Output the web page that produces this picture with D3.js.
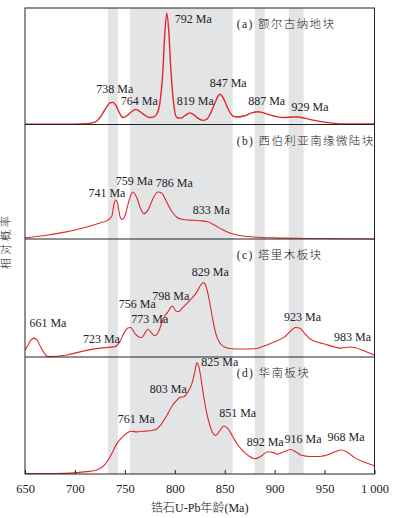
<!DOCTYPE html>
<html>
<head>
<meta charset="utf-8">
<script src="https://cdn.jsdelivr.net/npm/d3@7"></script>
<style>
  body { margin: 0; background: #fff; }
  svg { display: block; }
  text { font-family: "Liberation Serif", "Noto Sans CJK SC", serif; fill: #222; }
  .cjk { font-weight: 300; }
</style>
</head>
<body>
<svg id="chart" width="395" height="518"></svg>
<script>
// x axis
const xTicks = [650, 700, 750, 800, 850, 900, 950, 1000];
const xTickLabels = ["650", "700", "750", "800", "850", "900", "950", "1 000"];

// shaded age bands (Ma)
const bands = [[733, 743], [755, 858], [880, 890], [914, 929]];

const panelNames = ["(a) 额尔古纳地块", "(b) 西伯利亚南缘微陆块", "(c) 塔里木板块", "(d) 华南板块"];

// (a) relative probability curve
const agesA = [650, 700, 712, 720, 726, 731, 735, 738, 741, 744, 748, 752, 756, 761, 766, 770, 775, 779, 782, 785, 788, 790, 792, 794, 796, 799, 802, 806, 810, 815, 819, 823, 828, 832, 836, 840, 845, 849, 853, 858, 863, 870, 877, 883, 889, 896, 903, 910, 917, 923, 930, 940, 950, 960, 970, 1000];
const probA = [0.003, 0.003, 0.006, 0.02, 0.07, 0.14, 0.185, 0.19, 0.165, 0.11, 0.06, 0.075, 0.105, 0.13, 0.105, 0.08, 0.06, 0.065, 0.09, 0.18, 0.45, 0.78, 0.955, 0.8, 0.48, 0.17, 0.06, 0.055, 0.075, 0.1, 0.085, 0.055, 0.035, 0.045, 0.1, 0.18, 0.26, 0.22, 0.14, 0.075, 0.065, 0.075, 0.1, 0.11, 0.1, 0.08, 0.065, 0.06, 0.065, 0.065, 0.055, 0.035, 0.02, 0.01, 0.005, 0.004];

// (b)
const agesB = [650, 670, 690, 710, 725, 733, 737, 739, 741, 743, 745, 747, 750, 754, 758, 762, 766, 769, 773, 778, 783, 787, 792, 797, 802, 808, 815, 825, 833, 840, 848, 856, 865, 880, 900, 930, 1000];
const probB = [0.01, 0.03, 0.06, 0.1, 0.14, 0.165, 0.2, 0.3, 0.34, 0.3, 0.2, 0.17, 0.2, 0.33, 0.41, 0.36, 0.26, 0.22, 0.25, 0.35, 0.41, 0.4, 0.32, 0.24, 0.19, 0.17, 0.165, 0.16, 0.15, 0.12, 0.08, 0.05, 0.03, 0.018, 0.01, 0.005, 0.0];

// (c)
const agesC = [650, 653, 656, 659, 662, 666, 670, 673, 692, 708, 725, 740, 745, 749, 753, 756, 760, 764, 767, 770, 773, 776, 780, 784, 787, 790, 793, 796, 798, 801, 804, 808, 815, 822, 826, 829, 832, 835, 838, 841, 845, 850, 857, 865, 880, 890, 900, 910, 916, 921, 925, 930, 936, 943, 950, 958, 966, 975, 980, 990, 1000];
const probC = [0.06, 0.1, 0.145, 0.16, 0.145, 0.08, 0.025, 0.003, 0.017, 0.05, 0.075, 0.088, 0.13, 0.2, 0.245, 0.25, 0.2, 0.17, 0.165, 0.2, 0.235, 0.21, 0.18, 0.22, 0.29, 0.35, 0.38, 0.42, 0.43, 0.39, 0.385, 0.42, 0.48, 0.55, 0.61, 0.63, 0.58, 0.46, 0.32, 0.2, 0.12, 0.085, 0.07, 0.068, 0.07, 0.095, 0.13, 0.17, 0.22, 0.25, 0.245, 0.2, 0.15, 0.125, 0.11, 0.09, 0.075, 0.085, 0.08, 0.05, 0.015];

// (d)
const agesD = [650, 680, 700, 712, 722, 730, 736, 742, 748, 753, 757, 762, 768, 775, 781, 786, 792, 798, 802, 805, 809, 813, 817, 820, 822, 824, 826, 829, 832, 835, 838, 841, 845, 849, 853, 858, 863, 868, 874, 880, 886, 893, 898, 903, 909, 916, 921, 927, 935, 945, 955, 962, 967, 972, 980, 990, 1000];
const probD = [0.003, 0.004, 0.01, 0.02, 0.035, 0.08, 0.16, 0.26, 0.32, 0.355, 0.365, 0.36, 0.365, 0.37, 0.38, 0.42, 0.5, 0.59, 0.63, 0.655, 0.66, 0.7, 0.77, 0.87, 0.95, 0.92, 0.83, 0.66, 0.52, 0.42, 0.35, 0.33, 0.37, 0.41, 0.39, 0.32, 0.25, 0.2, 0.155, 0.13, 0.15, 0.19, 0.185, 0.17, 0.19, 0.21, 0.19, 0.16, 0.15, 0.15, 0.17, 0.195, 0.205, 0.19, 0.14, 0.1, 0.07];

// peak labels
const peaksA = ["738 Ma", "764 Ma", "792 Ma", "819 Ma", "847 Ma", "887 Ma", "929 Ma"];
const peaksB = ["741 Ma", "759 Ma", "786 Ma", "833 Ma"];
const peaksC = ["661 Ma", "723 Ma", "756 Ma", "773 Ma", "798 Ma", "829 Ma", "923 Ma", "983 Ma"];
const peaksD = ["761 Ma", "803 Ma", "825 Ma", "851 Ma", "892 Ma", "916 Ma", "968 Ma"];

// where each label sits, in (age, probability) units, text centred
const placeA = [[740, 0.267], [764.5, 0.164], [818.5, 0.87], [820.5, 0.164], [853.5, 0.319], [892, 0.164], [935.5, 0.112]];
const placeB = [[732, 0.368], [759.5, 0.474], [799.5, 0.456], [836.5, 0.219]];
const placeC = [[673, 0.254], [726.5, 0.119], [762.5, 0.415], [775, 0.288], [796, 0.483], [835.5, 0.686], [928, 0.305], [978, 0.136]];
const placeD = [[761.5, 0.436], [793.5, 0.692], [845, 0.923], [863, 0.487], [890.5, 0.239], [928.5, 0.265], [971.5, 0.282]];

const panels = [
  { ages: agesA, prob: probA, peaks: peaksA, place: placeA },
  { ages: agesB, prob: probB, peaks: peaksB, place: placeB },
  { ages: agesC, prob: probC, peaks: peaksC, place: placeC },
  { ages: agesD, prob: probD, peaks: peaksD, place: placeD }
];

// layout
const left = 25, right = 374.5;
const panelEdges = [8, 124.5, 239, 357, 474];

const svg = d3.select("#chart");

const x = d3.scaleLinear().domain([650, 1000]).range([left, right]);

// gray bands across all panels
svg.append("g")
  .selectAll("rect")
  .data(bands)
  .enter()
  .append("rect")
  .attr("x", d => x(d[0]))
  .attr("width", d => x(d[1]) - x(d[0]))
  .attr("y", panelEdges[0])
  .attr("height", panelEdges[4] - panelEdges[0])
  .attr("fill", "#e3e4e6");

svg.append("defs").append("clipPath")
  .attr("id", "plot-clip")
  .append("rect")
  .attr("x", left)
  .attr("y", panelEdges[0])
  .attr("width", right - left)
  .attr("height", panelEdges[4] - panelEdges[0]);

panels.forEach((p, i) => {
  const top = panelEdges[i], bottom = panelEdges[i + 1];
  const y = d3.scaleLinear().domain([0, 1]).range([bottom, top]);

  const line = d3.line()
    .x((d, j) => x(p.ages[j]))
    .y(d => y(d))
    .curve(d3.curveMonotoneX);

  svg.append("path")
    .datum(p.prob)
    .attr("d", line)
    .attr("clip-path", "url(#plot-clip)")
    .attr("fill", "none")
    .attr("stroke", "#e0262c")
    .attr("stroke-width", i === 0 ? 1.4 : 1.1);

  svg.append("g")
    .selectAll("text")
    .data(p.peaks)
    .enter()
    .append("text")
    .attr("x", (d, j) => x(p.place[j][0]))
    .attr("y", (d, j) => y(p.place[j][1]))
    .attr("text-anchor", "middle")
    .style("font-size", "12px")
    .text(d => d);

  svg.append("text")
    .attr("class", "cjk")
    .attr("x", x(862))
    .attr("y", top + 20)
    .style("font-size", "11.5px")
    .style("letter-spacing", "1.4px")
    .text(panelNames[i]);

  // panel separator
  if (i > 0) {
    svg.append("line")
      .attr("x1", left).attr("x2", right)
      .attr("y1", top).attr("y2", top)
      .attr("stroke", "#222")
      .attr("stroke-width", 1);
  }
});

// outer frame
svg.append("rect")
  .attr("x", left)
  .attr("y", panelEdges[0])
  .attr("width", right - left)
  .attr("height", panelEdges[4] - panelEdges[0])
  .attr("fill", "none")
  .attr("stroke", "#222")
  .attr("stroke-width", 1);

// bottom axis, ticks pointing inward
const xAxis = d3.axisBottom(x)
  .tickValues(xTicks)
  .tickSizeInner(-4)
  .tickSizeOuter(0)
  .tickPadding(10)
  .tickFormat((d, i) => xTickLabels[i]);

const axisG = svg.append("g")
  .attr("transform", `translate(0,${panelEdges[4]})`)
  .call(xAxis);
axisG.select(".domain").remove();
axisG.selectAll("line").attr("stroke", "#222");
axisG.selectAll("text")
  .style("font-size", "12.5px")
  .style("font-family", "\"Liberation Serif\", serif")
  .attr("fill", "#222");

// axis titles
svg.append("text")
  .attr("class", "cjk")
  .attr("x", (left + right) / 2)
  .attr("y", 512)
  .attr("text-anchor", "middle")
  .style("font-size", "12px")
  .text("锆石U-Pb年龄(Ma)");

svg.append("text")
  .attr("class", "cjk")
  .attr("transform", "translate(10,241) rotate(-90)")
  .attr("text-anchor", "middle")
  .style("font-size", "11px")
  .style("letter-spacing", "3px")
  .text("相对概率");
</script>
</body>
</html>
